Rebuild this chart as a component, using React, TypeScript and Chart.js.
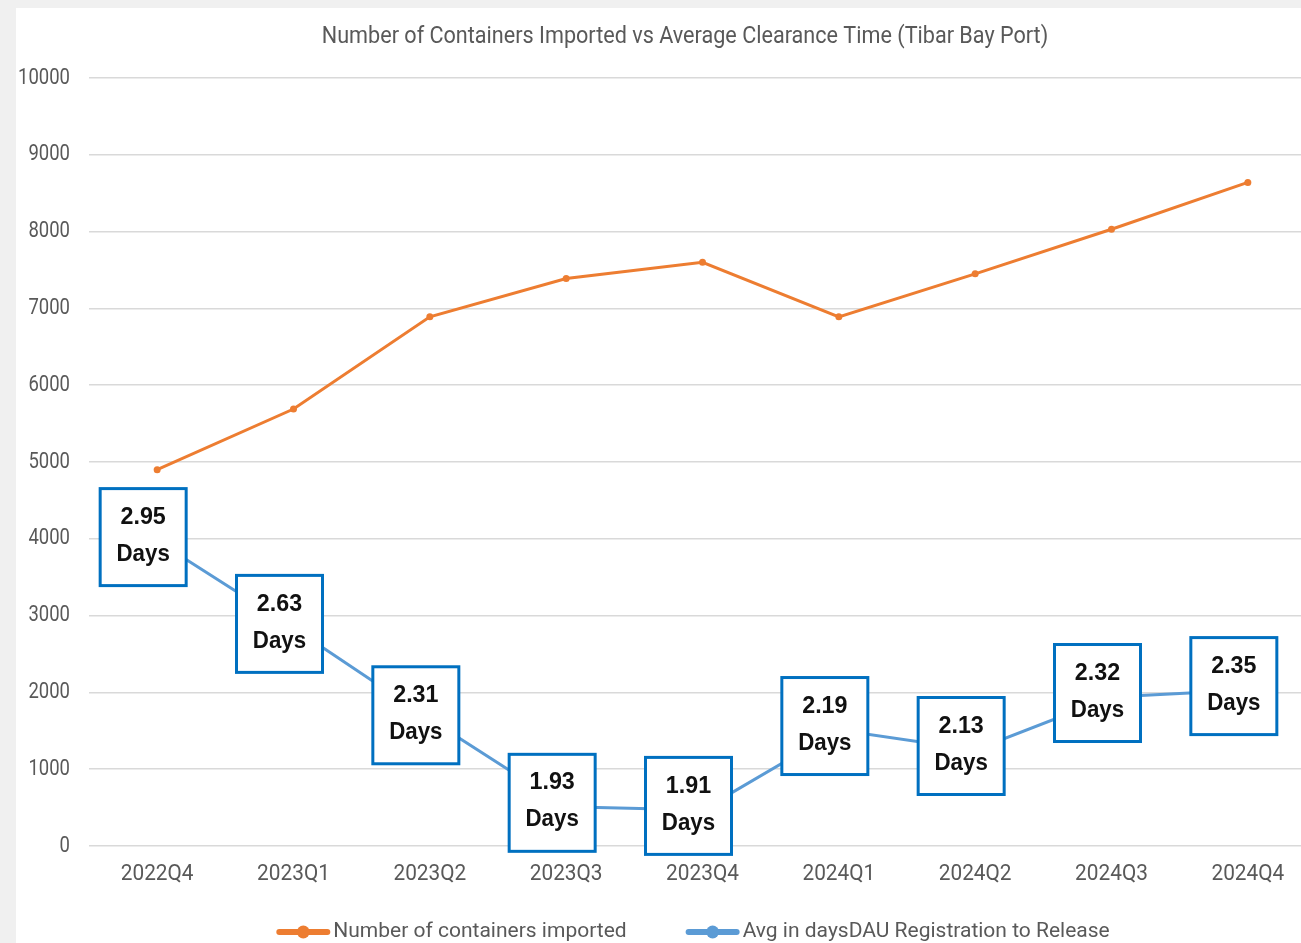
import React, { useEffect, useRef } from "react";
import { Chart, registerables } from "chart.js";

Chart.register(...registerables);

const chartTitle = "Number of Containers Imported vs Average Clearance Time (Tibar Bay Port)";
const quarters = ["2022Q4", "2023Q1", "2023Q2", "2023Q3", "2023Q4", "2024Q1", "2024Q2", "2024Q3", "2024Q4"];
const containersImported = [4900, 5690, 6890, 7390, 7600, 6890, 7450, 8030, 8640];
// position of the clearance-time line as drawn against the shared axis
const clearancePlotted = [3970, 2840, 1650, 510, 470, 1510, 1250, 1940, 2030];
const clearanceDays = ["2.95", "2.63", "2.31", "1.93", "1.91", "2.19", "2.13", "2.32", "2.35"];
const seriesNames = ["Number of containers imported", "Avg in daysDAU Registration to Release"];
const yMin = 0;
const yMax = 10000;
const yStep = 1000;

const ORANGE = "#ED7D31";
const BLUE = "#5B9BD5";
const BOX_BLUE = "#0070C0";
const GREY_TEXT = "#595959";
const SANS = "Roboto, 'Liberation Sans', sans-serif";
const BOLD = "'Liberation Sans', Arial, sans-serif";

const CW = 1338;
const CH = 935;

function squishText(ctx: any, text: string, x: number, y: number, align: string, sx: number) {
  ctx.save();
  ctx.translate(x, y);
  ctx.scale(sx, 1);
  ctx.textAlign = align;
  ctx.textBaseline = "middle";
  ctx.fillText(text, 0, 0);
  ctx.restore();
}

const decorPlugin = {
  id: "decor",
  afterDatasetsDraw(chart: any) {
    const ctx = chart.ctx;
    const meta = chart.getDatasetMeta(1);
    const bw = 86;
    const bh = 97;
    ctx.save();
    meta.data.forEach((pt: any, i: number) => {
      const cx = pt.x - 14;
      const cy = pt.y - 4;
      ctx.fillStyle = "#ffffff";
      ctx.fillRect(cx - bw / 2, cy - bh / 2, bw, bh);
      ctx.strokeStyle = BOX_BLUE;
      ctx.lineWidth = 3;
      ctx.strokeRect(cx - bw / 2, cy - bh / 2, bw, bh);
      ctx.fillStyle = "#111111";
      ctx.font = `bold 24px ${BOLD}`;
      squishText(ctx, clearanceDays[i], cx, cy - 20, "center", 0.97);
      squishText(ctx, "Days", cx, cy + 17, "center", 0.93);
    });
    ctx.restore();
  },
  afterDraw(chart: any) {
    const ctx = chart.ctx;
    ctx.save();
    ctx.fillStyle = GREY_TEXT;
    // title
    ctx.font = `24px ${SANS}`;
    squishText(ctx, chartTitle, CW / 2, 29, "center", 0.9);
    // y tick labels
    const ys = chart.scales.y;
    ctx.font = `22px ${SANS}`;
    ys.ticks.forEach((t: any, i: number) => {
      squishText(ctx, String(t.value), ys.right - 19, ys.getPixelForTick(i), "right", 0.84);
    });
    // x tick labels
    const xs = chart.scales.x;
    ctx.font = `22.5px ${SANS}`;
    xs.ticks.forEach((t: any, i: number) => {
      squishText(ctx, quarters[i], xs.getPixelForTick(i), xs.top + 28, "center", 0.925);
    });
    // legend
    ctx.font = `21px ${SANS}`;
    const markerW = 54;
    const gapText = 3;
    const gapItems = 59;
    const widths = seriesNames.map((n) => ctx.measureText(n).width);
    const total = widths.reduce((a, w) => a + markerW + gapText + w, 0) + gapItems;
    let x = 677 - total / 2;
    const y = 924;
    const colors = [ORANGE, BLUE];
    seriesNames.forEach((n, i) => {
      ctx.strokeStyle = colors[i];
      ctx.lineWidth = 6;
      ctx.lineCap = "round";
      ctx.beginPath();
      ctx.moveTo(x + 3, y);
      ctx.lineTo(x + markerW - 3, y);
      ctx.stroke();
      ctx.fillStyle = colors[i];
      ctx.beginPath();
      ctx.arc(x + markerW / 2, y, 6.5, 0, Math.PI * 2);
      ctx.fill();
      ctx.fillStyle = GREY_TEXT;
      squishText(ctx, n, x + markerW + gapText, y, "left", 1);
      x += markerW + gapText + widths[i] + gapItems;
    });
    ctx.restore();
  },
};

export default function App() {
  const ref = useRef<HTMLCanvasElement | null>(null);
  useEffect(() => {
    if (!ref.current) return;
    const chart = new Chart(ref.current, {
      type: "line",
      data: {
        labels: quarters,
        datasets: [
          {
            label: seriesNames[0],
            data: containersImported,
            borderColor: ORANGE,
            backgroundColor: ORANGE,
            borderWidth: 3,
            pointRadius: 3.5,
            pointBorderWidth: 0,
            tension: 0,
          },
          {
            label: seriesNames[1],
            data: clearancePlotted,
            borderColor: BLUE,
            backgroundColor: BLUE,
            borderWidth: 3,
            pointRadius: 3,
            pointBorderWidth: 0,
            tension: 0,
          },
        ],
      },
      options: {
        responsive: false,
        animation: false,
        devicePixelRatio: 1,
        layout: { padding: { top: 70, right: 38, bottom: 0, left: 0 } },
        plugins: {
          legend: { display: false },
          title: { display: false },
          tooltip: { enabled: false },
        },
        scales: {
          x: {
            offset: true,
            grid: { display: false, drawTicks: false },
            border: { display: false },
            ticks: { display: false, autoSkip: false, maxRotation: 0 },
            afterFit: (s: any) => {
              s.height = 97;
            },
          },
          y: {
            min: yMin,
            max: yMax,
            grid: { color: "#D9D9D9", lineWidth: 1.5, drawTicks: false },
            border: { display: false },
            ticks: { display: false, stepSize: yStep },
            afterFit: (s: any) => {
              s.width = 73;
            },
          },
        },
      },
      plugins: [decorPlugin],
    });
    return () => chart.destroy();
  }, []);

  return (
    <div
      style={{
        position: "fixed",
        left: 0,
        top: 0,
        width: 1301,
        height: 943,
        background: "#F0F0F0",
        overflow: "hidden",
      }}
    >
      <div
        style={{
          position: "absolute",
          left: 16,
          top: 8,
          width: CW,
          height: CH,
          background: "#ffffff",
        }}
      >
        <canvas ref={ref} width={CW} height={CH} style={{ width: CW, height: CH, display: "block" }} />
      </div>
    </div>
  );
}
